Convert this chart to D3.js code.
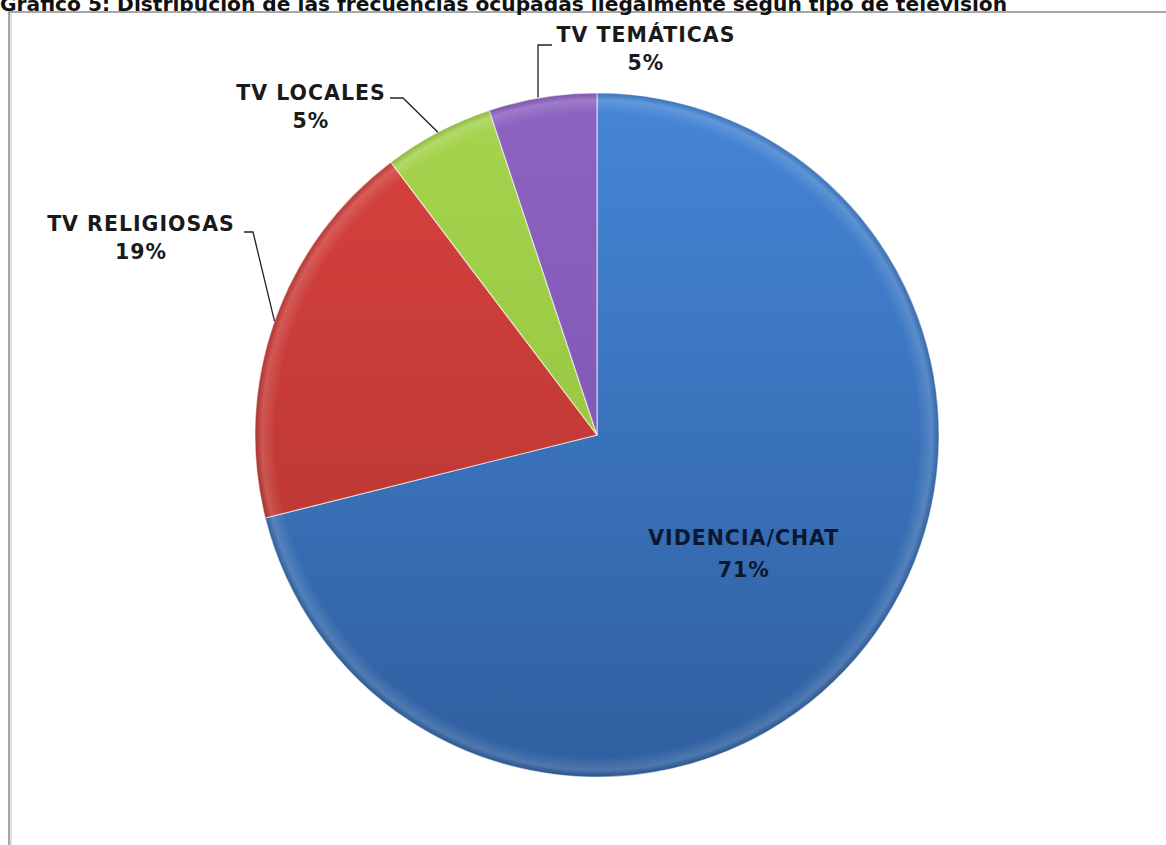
<!DOCTYPE html>
<html><head><meta charset="utf-8">
<script src="https://cdn.jsdelivr.net/npm/d3@7"></script>
<style>body{margin:0;background:#fff;} svg{display:block;}</style>
</head><body>
<svg id="c" width="1166" height="845"></svg>
<script>
const title = "Gráfico 5: Distribución de las frecuencias ocupadas ilegalmente según tipo de televisión";
const categories = ["VIDENCIA/CHAT", "TV RELIGIOSAS", "TV LOCALES", "TV TEMÁTICAS"];
const values = [71.1, 18.6, 5.2, 5.1];
const pctLabels = ["71%", "19%", "5%", "5%"];
const colorsTop = ["#4586d6", "#d8423e", "#a6d44e", "#8d63c2"];
const colorsBot = ["#2f5f9f", "#b0332e", "#8cbd38", "#7650a8"];

const svg = d3.select("#c");
const W = 1166, H = 845;
const cx = 597, cy = 435, R = 342;

// frame
svg.append("rect").attr("x", 9).attr("y", 12).attr("width", W + 20).attr("height", H + 20)
  .attr("fill", "#fff").attr("stroke", "#8a8a8a").attr("stroke-width", 1.5);
svg.append("line").attr("x1", 11).attr("x2", 11).attr("y1", 13).attr("y2", H)
  .attr("stroke", "#e0e0e0").attr("stroke-width", 2);

// title (clipped at top as in the original)
const t = svg.append("text").attr("x", 0).attr("y", 10.5)
  .attr("font-family", "DejaVu Sans").attr("font-weight", "bold").attr("font-size", 17)
  .attr("fill", "#111").text(title);
const tl = t.node().getComputedTextLength();
t.attr("font-size", 17 * 1008 / tl);

const defs = svg.append("defs");
categories.forEach((c, i) => {
  const g = defs.append("linearGradient").attr("id", "g" + i)
    .attr("gradientUnits", "userSpaceOnUse")
    .attr("x1", 0).attr("y1", -R).attr("x2", 0).attr("y2", R);
  g.append("stop").attr("offset", "0%").attr("stop-color", colorsTop[i]);
  g.append("stop").attr("offset", "100%").attr("stop-color", colorsBot[i]);
});
const rg = defs.append("radialGradient").attr("id", "rim")
  .attr("gradientUnits", "userSpaceOnUse").attr("cx", 0).attr("cy", 0).attr("r", R);
rg.append("stop").attr("offset", "94%").attr("stop-color", "#fff").attr("stop-opacity", 0);
rg.append("stop").attr("offset", "98%").attr("stop-color", "#fff").attr("stop-opacity", 0.15);
rg.append("stop").attr("offset", "100%").attr("stop-color", "#000").attr("stop-opacity", 0.12);

const pie = d3.pie().sort(null).value(d => d.v);
const data = pie(categories.map((c, i) => ({c, v: values[i], i})));
const arc = d3.arc().innerRadius(0).outerRadius(R);

const g = svg.append("g").attr("transform", `translate(${cx},${cy})`);
g.selectAll("path.s").data(data).join("path").attr("class", "s")
  .attr("d", arc)
  .attr("fill", d => `url(#g${d.data.i})`)
  .attr("stroke", "#ffffff").attr("stroke-width", 1.2).attr("stroke-opacity", 0.6);
g.selectAll("path.r").data(data).join("path").attr("class", "r")
  .attr("d", arc).attr("fill", "url(#rim)");

// labels
const fontFam = "DejaVu Sans";
const FS = 20.5, LS = 1;
const layout = {
  1: {x: 141, y: 231, lead: [[244, 232], [253, 232]]},
  2: {x: 311, y: 100, lead: [[390, 98], [403, 98]]},
  3: {x: 646, y: 42, lead: [[552, 45], [538, 45]]}
};
data.forEach(d => {
  const i = d.data.i;
  if (i === 0) {
    const [px, py] = arc.centroid(d);
    const tg = svg.append("g").attr("font-family", fontFam).attr("font-weight", "bold")
      .attr("font-size", FS).attr("letter-spacing", LS).attr("fill", "#0d1830").attr("text-anchor", "middle");
    tg.append("text").attr("x", cx + px + 12).attr("y", cy + py + 5).text(categories[i]);
    tg.append("text").attr("x", cx + px + 12).attr("y", cy + py + 37).text(pctLabels[i]);
    return;
  }
  const L = layout[i];
  const tg = svg.append("g").attr("font-family", fontFam).attr("font-weight", "bold")
    .attr("font-size", FS).attr("letter-spacing", LS).attr("fill", "#1a1a1a").attr("text-anchor", "middle");
  tg.append("text").attr("x", L.x).attr("y", L.y).text(categories[i]);
  tg.append("text").attr("x", L.x).attr("y", L.y + 28).text(pctLabels[i]);
  const mid = (d.startAngle + d.endAngle) / 2;
  const end = [cx + R * Math.sin(mid), cy - R * Math.cos(mid)];
  const pts = L.lead.concat([end]);
  if (i === 3) { pts[2] = [pts[1][0], end[1]]; }
  svg.append("path").attr("d", d3.line()(pts)).attr("fill", "none")
    .attr("stroke", "#222").attr("stroke-width", 1.3);
});
</script>
</body></html>
